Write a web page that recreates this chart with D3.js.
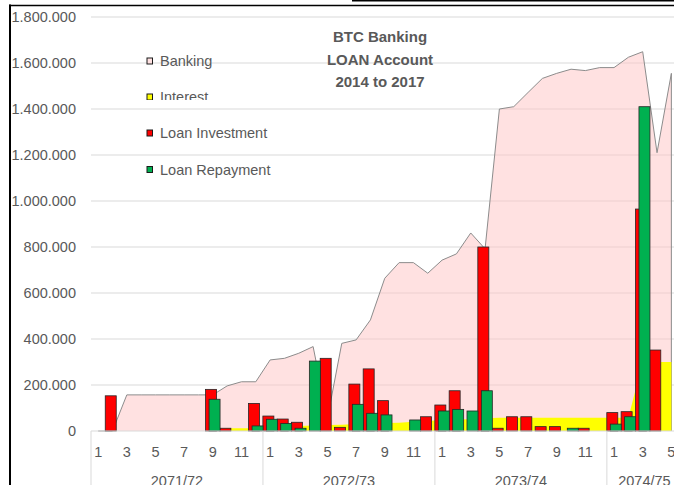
<html>
<head>
    <script src="https://cdn.jsdelivr.net/npm/d3@7"></script>
    <style>
        body { margin: 0; background: #fff; }
        text { font-family: "Liberation Sans", Arial, sans-serif; }
    </style>
</head>
<body>
    <div id="vis"></div>
</body>

<script>
    // fiscal years and how many months of each are shown
    var years = ["2071/72", "2072/73", "2073/74", "2074/75"];
    var monthsShown = [12, 12, 12, 5];

    // series values, one per month
    var banking = [0, 0, 157000, 157000, 157000, 157000, 157000, 157000, 157000, 196000, 214000, 214000,
        309000, 316000, 338000, 367000, 55000, 381000, 396000, 483000, 664000, 732000, 732000, 686000,
        743000, 770000, 861000, 792000, 1400000, 1410000, 1472000, 1533000, 1555000, 1573000, 1567000, 1580000,
        1580000, 1625000, 1649000, 1210000, 1555000];
    var interest = [0, 0, 0, 0, 0, 0, 0, 0, 0, 12000, 12000, 12000,
        15000, 18000, 22000, 24000, 26000, 27000, 30000, 33000, 35000, 36000, 40000, 44000,
        48000, 50000, 51000, 55000, 58000, 58000, 58000, 58000, 58000, 58000, 58000, 58000,
        58000, 58000, 300000, 300000, 300000];
    var loanInvestment = [0, 153000, 0, 0, 0, 0, 0, 0, 181000, 12000, 0, 120000,
        65000, 52000, 38000, 0, 316000, 16000, 204000, 270000, 132000, 0, 0, 62000,
        113000, 175000, 0, 800000, 12000, 62000, 62000, 19000, 19000, 0, 12000, 0,
        80000, 84000, 965000, 352000, 0];
    var loanRepayment = [0, 0, 0, 0, 0, 0, 0, 0, 138000, 0, 0, 22000,
        51000, 33000, 12000, 304000, 0, 0, 116000, 77000, 70000, 0, 48000, 0,
        87000, 94000, 87000, 175000, 0, 0, 0, 0, 0, 12000, 0, 0,
        30000, 62000, 1410000, 0, 0];
    var yTicks = [0, 200000, 400000, 600000, 800000, 1000000, 1200000, 1400000, 1600000, 1800000];
    var titleLines = ["BTC Banking", "LOAN Account", "2014 to 2017"];

    // build the category list (year + month)
    var cats = [];
    years.forEach(function (yr, yi) {
        for (var m = 1; m <= monthsShown[yi]; m++) cats.push({ key: yr + "-" + m, year: yr, month: m });
    });

    var W = 674, H = 485;
    var plotLeft = 91, plotBottom = 431, plotTop = 17;

    var svg = d3.select("#vis").append("svg")
        .attr("width", W).attr("height", H);

    var x = d3.scaleBand()
        .domain(cats.map(function (d) { return d.key; }))
        .range([plotLeft, plotLeft + cats.length * 14.33])
        .padding(0);
    var bw = x.bandwidth();
    var cx = function (i) { return x(cats[i].key) + bw / 2; };

    var y = d3.scaleLinear().domain([0, 1800000]).range([plotBottom, plotTop]);

    var fmt = d3.formatLocale({ decimal: ",", thousands: ".", grouping: [3], currency: ["", ""] }).format(",");

    // gridlines
    svg.append("g").selectAll("line").data(yTicks.slice(1)).enter().append("line")
        .attr("x1", plotLeft).attr("x2", W)
        .attr("y1", function (d) { return y(d); }).attr("y2", function (d) { return y(d); })
        .attr("stroke", "#d9d9d9").attr("stroke-width", 1);

    // y labels
    svg.append("g").selectAll("text").data(yTicks).enter().append("text")
        .attr("x", 76).attr("y", function (d) { return y(d) + 5; })
        .attr("text-anchor", "end")
        .style("font-size", "14.5px").style("fill", "#595959")
        .text(function (d) { return fmt(d); });

    // Banking area
    var idx = d3.range(cats.length);
    var bankArea = d3.area()
        .x(function (i) { return cx(i); })
        .y0(y(0))
        .y1(function (i) { return y(banking[i]); });
    svg.append("path").datum(idx)
        .attr("d", bankArea)
        .attr("fill", "#ffc9c9").attr("fill-opacity", 0.55);

    var last = cats.length - 1;
    var bankLine = d3.line()
        .x(function (d) { return d[0]; })
        .y(function (d) { return d[1]; });
    var outline = idx.map(function (i) { return [cx(i), y(banking[i])]; });
    outline.push([cx(last), y(0)]);
    svg.append("path").datum(outline)
        .attr("d", bankLine)
        .attr("fill", "none").attr("stroke", "#8c8c8c").attr("stroke-width", 1);

    // Interest area
    var intArea = d3.area()
        .x(function (i) { return cx(i); })
        .y0(y(0))
        .y1(function (i) { return y(interest[i]); });
    svg.append("path").datum(idx)
        .attr("d", intArea)
        .attr("fill", "#ffff00");

    // columns
    var barW = 11, shift = 1.75;
    function bars(values, color, off) {
        svg.append("g").selectAll("rect")
            .data(idx.filter(function (i) { return values[i] > 0; }))
            .enter().append("rect")
            .attr("x", function (i) { return cx(i) + off - barW / 2; })
            .attr("width", barW)
            .attr("y", function (i) { return y(values[i]); })
            .attr("height", function (i) { return y(0) - y(values[i]); })
            .attr("fill", color)
            .attr("stroke", "#262626").attr("stroke-width", 0.8);
    }
    bars(loanInvestment, "#ff0000", -shift);
    bars(loanRepayment, "#00b050", shift);

    // x axis line and group separators
    svg.append("line").attr("x1", plotLeft).attr("x2", W).attr("y1", plotBottom).attr("y2", plotBottom)
        .attr("stroke", "#d9d9d9");
    var seps = [0];
    var acc = 0;
    monthsShown.forEach(function (n) { acc += n; seps.push(acc); });
    svg.append("g").selectAll("line").data(seps.slice(0, -1)).enter().append("line")
        .attr("x1", function (s) { return x(cats[s].key); })
        .attr("x2", function (s) { return x(cats[s].key); })
        .attr("y1", plotBottom).attr("y2", H)
        .attr("stroke", "#d9d9d9");

    // month labels (odd months)
    var xAxis = d3.axisBottom(x)
        .tickValues(cats.filter(function (d) { return d.month % 2 === 1; }).map(function (d) { return d.key; }))
        .tickFormat(function (k) { return k.split("-")[1]; })
        .tickSize(0).tickPadding(0);
    var gx = svg.append("g").attr("transform", "translate(0," + (plotBottom + 26) + ")").call(xAxis);
    gx.select(".domain").remove();
    gx.selectAll("text")
        .attr("dy", 0)
        .style("font-size", "14.5px").style("fill", "#595959")
        .style("font-family", "Liberation Sans, Arial, sans-serif");

    // year labels
    svg.append("g").selectAll("text").data(years).enter().append("text")
        .attr("x", function (d, i) {
            var a = x(cats[seps[i]].key);
            var b = a + monthsShown[i] * bw;
            return (a + Math.min(b, W)) / 2 + (i === 3 ? 4 : 0);
        })
        .attr("y", 486)
        .attr("text-anchor", "middle")
        .style("font-size", "14.5px").style("fill", "#595959")
        .text(function (d) { return d; });

    // legend
    var legend = [
        { name: "Banking", fill: "#ffe1e1", y: 61 },
        { name: "Interest", fill: "#ffff00", y: 97 },
        { name: "Loan Investment", fill: "#ff0000", y: 133 },
        { name: "Loan Repayment", fill: "#00b050", y: 169.5 }
    ];
    // the Interest entry is cut at its bottom in the original
    svg.append("clipPath").attr("id", "intClip")
        .append("rect").attr("x", 0).attr("y", 0).attr("width", W).attr("height", 100);
    var lg = svg.append("g").selectAll("g").data(legend).enter().append("g")
        .attr("clip-path", function (d) { return d.name === "Interest" ? "url(#intClip)" : null; });
    lg.append("rect")
        .attr("x", 147).attr("y", function (d) { return d.y - 3; })
        .attr("width", 5.5).attr("height", 6)
        .attr("fill", function (d) { return d.fill; })
        .attr("stroke", "#1a1a1a").attr("stroke-width", 1);
    lg.append("text")
        .attr("x", 160).attr("y", function (d) { return d.y + 5; })
        .style("font-size", "14.5px").style("fill", "#595959")
        .text(function (d) { return d.name; });

    // title
    svg.append("g").selectAll("text").data(titleLines).enter().append("text")
        .attr("x", 380).attr("y", function (d, i) { return 42 + i * 22.5; })
        .attr("text-anchor", "middle")
        .style("font-size", "15px").style("font-weight", "bold").style("fill", "#595959")
        .text(function (d) { return d; });

    // outer frame lines
    svg.append("line").attr("x1", 10).attr("x2", 10).attr("y1", 4.5).attr("y2", H)
        .attr("stroke", "#000").attr("stroke-width", 2);
    svg.append("line").attr("x1", 9).attr("x2", W).attr("y1", 5.5).attr("y2", 5.5)
        .attr("stroke", "#000").attr("stroke-width", 1.5);
    svg.append("line").attr("x1", 352).attr("x2", W).attr("y1", 0.8).attr("y2", 0.8)
        .attr("stroke", "#000").attr("stroke-width", 1.5);

</script>

</html>
